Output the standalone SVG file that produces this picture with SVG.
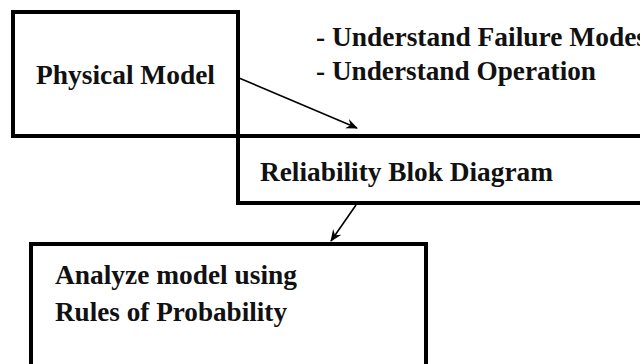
<svg xmlns="http://www.w3.org/2000/svg" width="640" height="364" viewBox="0 0 640 364">
  <style>
    .box { fill: none; stroke: #000; stroke-width: 4; }
    .lbl { font-family: "Liberation Serif", "Times New Roman", serif; font-weight: bold; font-size: 27px; fill: #111; }
    .conn { stroke: #000; stroke-width: 1.6; fill: none; marker-end: url(#arrow); }
  </style>
  <defs>
    <marker id="arrow" viewBox="0 0 12 10" refX="11" refY="5" markerWidth="12" markerHeight="10" markerUnits="userSpaceOnUse" orient="auto">
      <path d="M0,0 L12,5 L0,10 L4,5 Z" fill="#000"/>
    </marker>
  </defs>
  <rect width="640" height="364" fill="#fff"/>

  <g id="physical-model">
    <rect class="box" x="13" y="12" width="225" height="124"/>
    <text class="lbl" x="36" y="84" textLength="179" lengthAdjust="spacingAndGlyphs">Physical Model</text>
  </g>

  <g id="notes">
    <text class="lbl" x="316" y="46" textLength="331" lengthAdjust="spacingAndGlyphs">- Understand Failure Modes</text>
    <text class="lbl" x="316" y="80" textLength="280" lengthAdjust="spacingAndGlyphs">- Understand Operation</text>
  </g>

  <g id="reliability-block-diagram">
    <path class="box" stroke-width="3" d="M238,136 L238,203 L644,203 M13,136 L644,136" />
    <text class="lbl" x="260" y="181" textLength="293" lengthAdjust="spacingAndGlyphs">Reliability Blok Diagram</text>
  </g>

  <g id="analyze-model">
    <path class="box" d="M31,370 L31,244 L426,244 L426,370"/>
    <text class="lbl" x="55" y="284" textLength="242" lengthAdjust="spacingAndGlyphs">Analyze model using</text>
    <text class="lbl" x="55" y="321" textLength="232" lengthAdjust="spacingAndGlyphs">Rules of Probability</text>
  </g>

  <g id="connectors">
    <line class="conn" x1="239" y1="78" x2="357" y2="128"/>
    <line class="conn" x1="356" y1="205" x2="331" y2="241"/>
  </g>
</svg>
